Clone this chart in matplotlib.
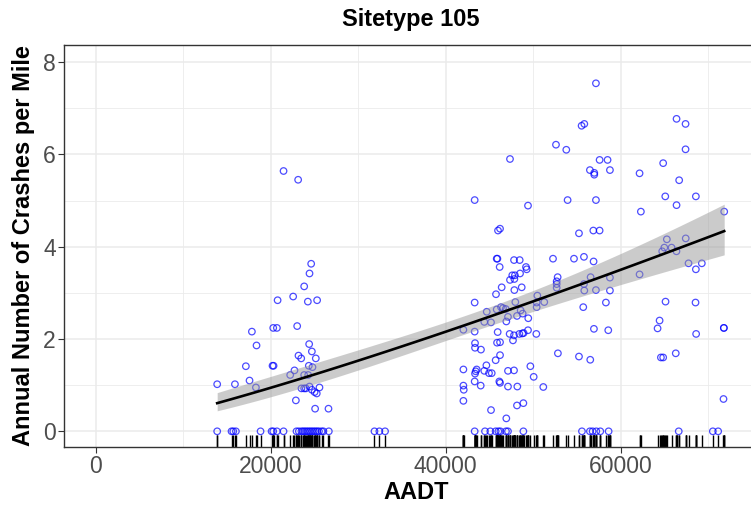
import numpy as np
import matplotlib
matplotlib.use("Agg")
import matplotlib.pyplot as plt
from matplotlib.ticker import MultipleLocator

left_aadt = [21450, 23120, 24610, 24420, 23810, 22550, 20770, 24230, 25290, 20270,
             20690, 23010, 17830, 18360, 24380, 24690, 23160, 23470, 25140, 20190,
             20310, 17140, 24340, 24760, 22700, 22210, 23810, 24270, 17560, 13860,
             15890, 18290, 23500, 23810, 24000, 24420, 24690, 25000, 25250, 25560,
             22860, 25060, 26590]
left_crash = [5.64, 5.45, 3.63, 3.42, 3.14, 2.92, 2.84, 2.81, 2.84, 2.24,
              2.24, 2.28, 2.16, 1.86, 1.89, 1.73, 1.64, 1.58, 1.58, 1.42,
              1.42, 1.41, 1.42, 1.39, 1.32, 1.22, 1.22, 1.22, 1.10, 1.02,
              1.02, 0.95, 0.93, 0.93, 0.93, 0.97, 0.90, 0.85, 0.82, 0.95,
              0.67, 0.49, 0.49]

mid_aadt = [43310, 49410, 53940, 57180, 45980, 46210, 55240, 56880, 57600, 45830,
            45910, 47810, 48460, 46170, 49180, 49260, 52270, 54670, 55810, 56910,
            48500, 47610, 47910, 47350, 47850, 46400, 48690, 47850, 45750, 52690,
            52690, 52690, 52800, 56570, 55810, 55850, 57180, 50480, 43310, 47960,
            50400, 50400, 51270, 55730, 44690, 45830, 46320, 46550, 46860, 48570,
            48800, 47120, 48150, 49440, 46930, 44410, 45180, 42020, 43310, 49410,
            45940, 56950, 47310, 47810, 48420, 48760, 48910, 50360, 47690, 45870,
            46210, 43350, 43350, 44030, 52830, 46210, 55240, 45710, 56530, 44650,
            49680, 42020, 43540, 43430, 43350, 44410, 44950, 45260, 47120, 47810,
            50060, 43310, 46130, 46210, 42020, 42060, 44000, 47120, 48190, 51160,
            42020, 48150, 48880, 45180, 46930,
            57180, 55540, 55850, 52610, 53790, 47350, 57600, 58510, 56490, 56990,
            56990, 58780, 58780, 58780, 58320, 58590]
mid_crash = [5.01, 4.89, 5.01, 5.01, 4.35, 4.39, 4.29, 4.35, 4.35, 3.74,
             3.74, 3.71, 3.71, 3.56, 3.56, 3.51, 3.74, 3.74, 3.78, 3.68,
             3.42, 3.38, 3.38, 3.28, 3.30, 3.12, 3.12, 3.06, 2.97, 3.25,
             3.19, 3.11, 3.34, 3.34, 3.19, 3.05, 3.06, 2.94, 2.79, 2.80,
             2.69, 2.79, 2.80, 2.69, 2.59, 2.64, 2.69, 2.67, 2.65, 2.62,
             2.55, 2.48, 2.50, 2.45, 2.38, 2.37, 2.36, 2.20, 2.16, 2.19,
             2.15, 2.22, 2.11, 2.08, 2.11, 2.12, 2.13, 2.11, 1.97, 1.92,
             1.93, 1.91, 1.81, 1.77, 1.69, 1.65, 1.62, 1.54, 1.55, 1.43,
             1.41, 1.34, 1.34, 1.30, 1.25, 1.31, 1.26, 1.26, 1.31, 1.32,
             1.18, 1.08, 1.08, 1.05, 0.99, 0.90, 0.99, 0.97, 0.97, 0.96,
             0.66, 0.56, 0.61, 0.46, 0.28,
             7.54, 6.62, 6.66, 6.21, 6.10, 5.90, 5.88, 5.88, 5.66, 5.56,
             5.60, 5.66, 3.33, 3.05, 2.79, 2.19]

right_aadt = [66400, 67430, 67430, 62170, 64870, 66700, 62320, 65110, 66400, 68610,
              71850, 65290, 67450, 65000, 65830, 64760, 66390, 67770, 68610, 69290,
              62170, 65140, 68570, 64460, 64230, 68640, 71810, 71810, 64610, 64870,
              66310, 71770]
right_crash = [6.77, 6.66, 6.11, 5.59, 5.81, 5.44, 4.76, 5.09, 4.90, 5.09,
               4.76, 4.16, 4.18, 3.98, 3.98, 3.90, 3.90, 3.64, 3.51, 3.64,
               3.40, 2.81, 2.79, 2.40, 2.23, 2.11, 2.24, 2.24, 1.60, 1.60,
               1.69, 0.70]

# sites with zero crashes
zero_aadt = [13860, 15500, 15700, 16000, 18820, 20080, 20270, 20690, 21450, 22930,
             23200, 23500, 23700, 23900, 24100, 24300, 24500, 24700, 24900, 25100,
             25300, 25500, 25800, 26010, 26630, 31850, 32410, 33060,
             43310, 44490, 45100, 45710, 46020, 46250, 46890, 47120, 48880, 55580,
             56490, 56800, 57220, 57680, 58630, 66650, 70550, 71160]

# SPF curve: crashes = exp(b0) * AADT^b1
spf_b0 = -11.862
spf_b1 = 1.192

aadt = np.array(left_aadt + mid_aadt + right_aadt + zero_aadt, dtype=float)
crash = np.array(left_crash + mid_crash + right_crash + [0.0] * len(zero_aadt))

# Poisson information at the SPF coefficients -> 95% band on the log scale
X = np.column_stack([np.ones_like(aadt), np.log(aadt)])
beta = np.array([spf_b0, spf_b1])
cov = np.linalg.inv((X.T * np.exp(X @ beta)) @ X)

xs = np.linspace(aadt.min(), aadt.max(), 80)
Xs = np.column_stack([np.ones_like(xs), np.log(xs)])
eta_s = Xs @ beta
se_s = np.sqrt(np.einsum("ij,jk,ik->i", Xs, cov, Xs))
fit = np.exp(eta_s)
lo = np.exp(eta_s - 1.96 * se_s)
hi = np.exp(eta_s + 1.96 * se_s)

plt.rcParams["font.family"] = ["Liberation Sans", "DejaVu Sans"]

fig = plt.figure(figsize=(7.51, 5.12), dpi=100)
ax = fig.add_axes([64 / 751, 65 / 512, 704 / 751, 402 / 512])

ax.scatter(aadt, crash, s=22, facecolors="none", edgecolors="#0000ff",
           linewidths=0.9, alpha=0.7, zorder=3)
ax.fill_between(xs, lo, hi, color="#999999", alpha=0.5, lw=0, zorder=4)
ax.plot(xs, fit, color="black", lw=1.9, zorder=5)

# rug along the bottom
ax.vlines(aadt, 0, 0.03, transform=ax.get_xaxis_transform(),
          color="black", lw=1.0, zorder=2)

ax.set_xlim(-3660, 76860)
ax.set_ylim(-0.34, 8.37)
ax.xaxis.set_major_locator(MultipleLocator(20000))
ax.xaxis.set_minor_locator(MultipleLocator(10000))
ax.yaxis.set_major_locator(MultipleLocator(2))
ax.yaxis.set_minor_locator(MultipleLocator(1))

ax.grid(which="major", color="#ebebeb", lw=1.1, zorder=0)
ax.grid(which="minor", color="#ebebeb", lw=0.6, zorder=0)
ax.set_axisbelow(True)
for sp in ax.spines.values():
    sp.set_color("#333333")
    sp.set_linewidth(1.0)

ax.tick_params(which="major", length=4, width=0.8, color="#333333",
               labelsize=16.5, labelcolor="#4d4d4d", pad=2)
ax.tick_params(which="minor", length=0)

ax.set_title("Sitetype 105", fontsize=17, fontweight="bold", pad=14, x=0.493)
ax.set_xlabel("AADT", fontsize=17, fontweight="bold", labelpad=2)
ax.set_ylabel("Annual Number of Crashes per Mile", fontsize=17,
              fontweight="bold", labelpad=6)

fig.savefig("out.png", dpi=100)
